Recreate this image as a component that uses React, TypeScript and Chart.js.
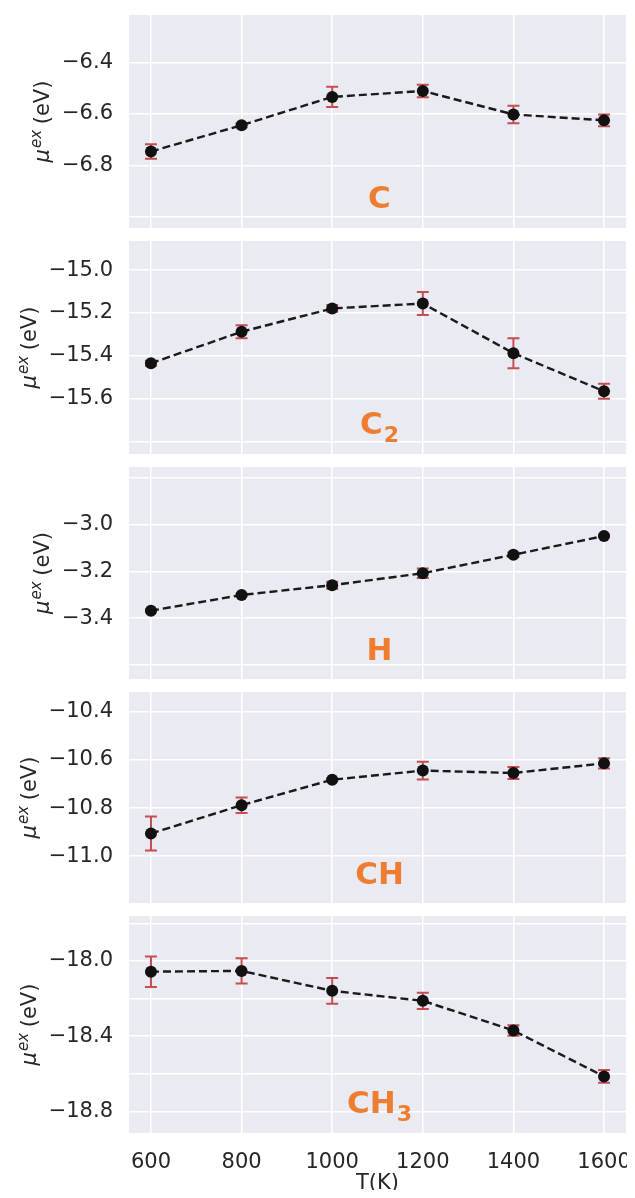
import React, { useEffect, useRef } from "react";
import { Chart, registerables } from "chart.js";

Chart.register(...registerables);

// ---------- data ----------
const temperatures = [600, 800, 1000, 1200, 1400, 1600];
const xTickValues = [600, 800, 1000, 1200, 1400, 1600];

const muC = [-6.746, -6.644, -6.534, -6.511, -6.602, -6.625];
const errC = [0.028, 0.008, 0.039, 0.024, 0.034, 0.023];

const muC2 = [-15.435, -15.288, -15.179, -15.156, -15.388, -15.566];
const errC2 = [0.012, 0.03, 0.015, 0.054, 0.07, 0.035];

const muH = [-3.368, -3.301, -3.259, -3.208, -3.129, -3.049];
const errH = [0.005, 0.005, 0.015, 0.02, 0.01, 0.005];

const muCH = [-10.906, -10.788, -10.682, -10.644, -10.654, -10.614];
const errCH = [0.071, 0.032, 0.005, 0.037, 0.025, 0.021];

const muCH3 = [-18.057, -18.053, -18.159, -18.212, -18.37, -18.614];
const errCH3 = [0.081, 0.067, 0.068, 0.043, 0.028, 0.034];

const gridC = [-7.0, -6.8, -6.6, -6.4];
const labelsC = [-6.8, -6.6, -6.4];
const gridC2 = [-15.8, -15.6, -15.4, -15.2, -15.0];
const labelsC2 = [-15.6, -15.4, -15.2, -15.0];
const gridH = [-3.6, -3.4, -3.2, -3.0, -2.8];
const labelsH = [-3.4, -3.2, -3.0];
const gridCH = [-11.0, -10.8, -10.6, -10.4];
const labelsCH = [-11.0, -10.8, -10.6, -10.4];
const gridCH3 = [-18.8, -18.6, -18.4, -18.2, -18.0, -17.8];
const labelsCH3 = [-18.8, -18.4, -18.0];

const rangeC = [-7.043, -6.216];
const rangeC2 = [-15.859, -14.864];
const rangeH = [-3.66, -2.754];
const rangeCH = [-11.195, -10.317];
const rangeCH3 = [-18.915, -17.761];
const xRange = [551.5, 1648.5];

const speciesMain = ["C", "C", "H", "CH", "CH"];
const speciesSub = ["", "2", "", "", "3"];
const xTitle = "T(K)";

// ---------- styling / layout ----------
const FONT = '"DejaVu Sans", "Noto Sans", sans-serif';
const TEXT_COLOR = "#262626";
const BG = "#eaeaf2";
const ORANGE = "#ee7d31";
const ERR_COLOR = "#c44e52";
const CANVAS_W = 627;
const canvasTops = [8, 234, 460, 685, 909];
const canvasHeights = [226, 226, 225, 224, 289];
const plotHeights = [217, 218, 217, 216, 217];

type Panel = {
  values: number[];
  errors: number[];
  grid: number[];
  labels: number[];
  range: number[];
  main: string;
  sub: string;
};

const panels: Panel[] = [
  { values: muC, errors: errC, grid: gridC, labels: labelsC, range: rangeC, main: speciesMain[0], sub: speciesSub[0] },
  { values: muC2, errors: errC2, grid: gridC2, labels: labelsC2, range: rangeC2, main: speciesMain[1], sub: speciesSub[1] },
  { values: muH, errors: errH, grid: gridH, labels: labelsH, range: rangeH, main: speciesMain[2], sub: speciesSub[2] },
  { values: muCH, errors: errCH, grid: gridCH, labels: labelsCH, range: rangeCH, main: speciesMain[3], sub: speciesSub[3] },
  { values: muCH3, errors: errCH3, grid: gridCH3, labels: labelsCH3, range: rangeCH3, main: speciesMain[4], sub: speciesSub[4] },
];

const fmtY = (v: number) => (v < 0 ? "\u2212" : "") + Math.abs(v).toFixed(1);

function PanelChart({ panel, index }: { panel: Panel; index: number }) {
  const ref = useRef<HTMLCanvasElement | null>(null);
  const isLast = index === panels.length - 1;
  const h = canvasHeights[index];

  useEffect(() => {
    if (!ref.current) return;
    const bottomPad = isLast ? 0 : h - 7 - plotHeights[index];

    const panelPlugin = {
      id: "panelDeco" + index,
      beforeDraw(chart: any) {
        const { ctx, chartArea } = chart;
        ctx.save();
        ctx.fillStyle = BG;
        ctx.fillRect(chartArea.left, chartArea.top, chartArea.right - chartArea.left, chartArea.bottom - chartArea.top);
        ctx.restore();
      },
      beforeDatasetsDraw(chart: any) {
        const { ctx } = chart;
        const xs = chart.scales.x;
        const ys = chart.scales.y;
        ctx.save();
        ctx.strokeStyle = ERR_COLOR;
        ctx.lineWidth = 2;
        const cap = 6;
        temperatures.forEach((t, i) => {
          const x = xs.getPixelForValue(t);
          const v = panel.values[i];
          const e = panel.errors[i];
          const y1 = ys.getPixelForValue(v - e);
          const y2 = ys.getPixelForValue(v + e);
          ctx.beginPath();
          ctx.moveTo(x, y1);
          ctx.lineTo(x, y2);
          ctx.moveTo(x - cap, y1);
          ctx.lineTo(x + cap, y1);
          ctx.moveTo(x - cap, y2);
          ctx.lineTo(x + cap, y2);
          ctx.stroke();
        });
        ctx.restore();
      },
      afterDraw(chart: any) {
        const { ctx, chartArea } = chart;
        const ys = chart.scales.y;
        ctx.save();
        // y-axis title: mu^{ex} (eV)
        ctx.font = `21px ${FONT}`;
        let maxW = 0;
        ys.ticks.forEach((t: any) => {
          if (t.label) maxW = Math.max(maxW, ctx.measureText(String(t.label)).width);
        });
        const labelLeft = chartArea.left - 16 - maxW;
        const baseX = labelLeft - 9 - 4;
        const cy = (chartArea.top + chartArea.bottom) / 2;
        const fMu = `italic 21px ${FONT}`;
        const fSup = `italic 15px ${FONT}`;
        const fRest = `21px ${FONT}`;
        ctx.font = fMu;
        const wMu = ctx.measureText("\u03bc").width;
        ctx.font = fSup;
        const wSup = ctx.measureText("ex").width;
        ctx.font = fRest;
        const wRest = ctx.measureText(" (eV)").width;
        const total = wMu + wSup + wRest;
        ctx.translate(baseX, cy);
        ctx.rotate(-Math.PI / 2);
        ctx.fillStyle = TEXT_COLOR;
        ctx.textBaseline = "alphabetic";
        ctx.textAlign = "left";
        let cx = -total / 2;
        ctx.font = fMu;
        ctx.fillText("\u03bc", cx, 0);
        cx += wMu + 1;
        ctx.font = fSup;
        ctx.fillText("ex", cx, -8);
        cx += wSup - 1;
        ctx.font = fRest;
        ctx.fillText(" (eV)", cx, 0);
        ctx.restore();

        // species label
        ctx.save();
        const fMain = `bold 31px ${FONT}`;
        const fSub = `bold 22px ${FONT}`;
        ctx.font = fMain;
        const wMain = ctx.measureText(panel.main).width;
        ctx.font = fSub;
        const wS = panel.sub ? ctx.measureText(panel.sub).width + 1 : 0;
        const centerX = (chartArea.left + chartArea.right) / 2 + 2;
        const midY = chartArea.top + 0.855 * (chartArea.bottom - chartArea.top);
        const baseY = midY + 11.3;
        let sx = centerX - (wMain + wS) / 2;
        ctx.fillStyle = ORANGE;
        ctx.textBaseline = "alphabetic";
        ctx.textAlign = "left";
        ctx.font = fMain;
        ctx.fillText(panel.main, sx, baseY);
        if (panel.sub) {
          ctx.font = fSub;
          ctx.fillText(panel.sub, sx + wMain + 1, baseY + 8);
        }
        ctx.restore();
      },
    };

    const chart = new Chart(ref.current, {
      type: "line",
      data: {
        datasets: [
          {
            data: temperatures.map((t, i) => ({ x: t, y: panel.values[i] })),
            borderColor: "#1a1a1a",
            borderWidth: 2.4,
            borderDash: [8, 4],
            pointRadius: 6,
            pointBackgroundColor: "#111111",
            pointBorderWidth: 0,
            pointHoverRadius: 6,
            tension: 0,
            fill: false,
          },
        ],
      },
      options: {
        responsive: false,
        animation: false,
        events: [],
        layout: { padding: { top: 7, bottom: bottomPad, left: 0, right: 9 } },
        plugins: { legend: { display: false }, tooltip: { enabled: false } },
        scales: {
          x: {
            type: "linear",
            min: xRange[0],
            max: xRange[1],
            afterBuildTicks: (s: any) => {
              s.ticks = xTickValues.map((v) => ({ value: v }));
            },
            afterFit: (s: any) => {
              s.paddingLeft = 0;
              s.paddingRight = 0;
              s.height = isLast ? 65 : 0;
            },
            grid: { color: "#ffffff", lineWidth: 1.5, drawTicks: false },
            border: { display: false },
            ticks: {
              display: isLast,
              padding: 17,
              color: TEXT_COLOR,
              font: { family: FONT, size: 21 },
              maxRotation: 0,
              autoSkip: false,
              callback: (v: any) => String(v),
            },
            title: {
              display: isLast,
              text: xTitle,
              color: TEXT_COLOR,
              font: { family: FONT, size: 21 },
              padding: { top: 0, bottom: 2 },
            },
          },
          y: {
            type: "linear",
            min: panel.range[0],
            max: panel.range[1],
            afterBuildTicks: (s: any) => {
              s.ticks = panel.grid.map((v) => ({ value: v }));
            },
            afterFit: (s: any) => {
              s.width = 121;
              s.paddingTop = 0;
              s.paddingBottom = 0;
            },
            grid: { color: "#ffffff", lineWidth: 1.5, drawTicks: false },
            border: { display: false },
            ticks: {
              padding: 16,
              color: TEXT_COLOR,
              font: { family: FONT, size: 21 },
              autoSkip: false,
              callback: (v: any) =>
                panel.labels.some((l) => Math.abs(l - Number(v)) < 1e-6) ? fmtY(Number(v)) : "",
            },
          },
        },
      },
      plugins: [panelPlugin],
    } as any);
    return () => chart.destroy();
  }, [panel, index, isLast, h]);

  return (
    <canvas
      ref={ref}
      width={CANVAS_W}
      height={h}
      style={{
        position: "absolute",
        left: 0,
        top: canvasTops[index] - 8,
        width: CANVAS_W,
        height: h,
        display: "block",
      }}
    />
  );
}

export default function App() {
  return (
    <div style={{ position: "relative", width: 619, height: 1182 }}>
      {panels.map((p, i) => (
        <PanelChart key={i} panel={p} index={i} />
      ))}
    </div>
  );
}
